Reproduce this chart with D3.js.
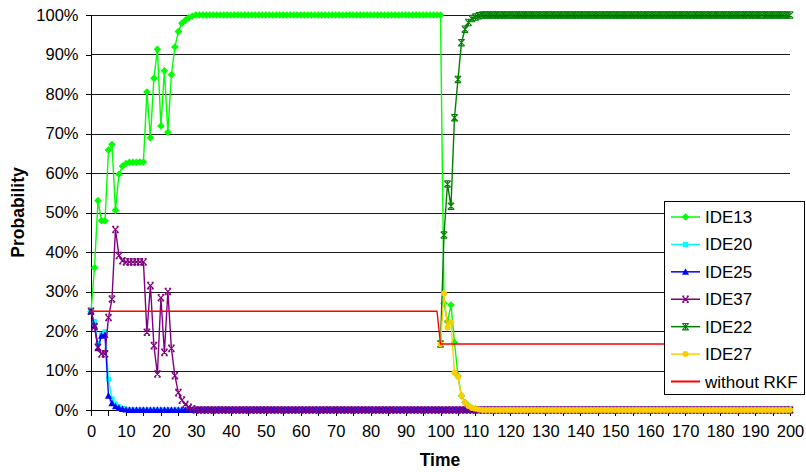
<!DOCTYPE html>
<html><head><meta charset="utf-8">
<script src="https://cdn.jsdelivr.net/npm/d3@7"></script>
<style>
body{margin:0;background:#fff}
svg{display:block;font-family:"Liberation Sans",Arial,sans-serif}
</style>
</head><body>
<svg id="chart" width="806" height="472"></svg>
<script>
// ---------- data ----------
const timeStart = 0, timeEnd = 200;          // category axis 0..200
const lateStart = 100;                        // IDE22 / IDE27 appear at t = 100
const yTickValues = [0,0.1,0.2,0.3,0.4,0.5,0.6,0.7,0.8,0.9,1];
const xTickValues = [0,5,10,15,20,25,30,35,40,45,50,55,60,65,70,75,80,85,90,95,100,105,110,115,120,125,130,135,140,145,150,155,160,165,170,175,180,185,190,195,200];
const xTickLabels = [0,10,20,30,40,50,60,70,80,90,100,110,120,130,140,150,160,170,180,190,200];
const seriesNames = ["IDE13","IDE20","IDE25","IDE37","IDE22","IDE27","without RKF"];

const ide13 = [
 .25,.36,.53,.479,.479,.658,.672,.506,.597,.617,
 .624,.627,.627,.627,.628,.628,.805,.689,.84,.913,
 .719,.859,.703,.849,.919,.958,.979,.987,.993,.997,
 1,1,1,1,1,1,1,1,1,1,
 1,1,1,1,1,1,1,1,1,1,
 1,1,1,1,1,1,1,1,1,1,
 1,1,1,1,1,1,1,1,1,1,
 1,1,1,1,1,1,1,1,1,1,
 1,1,1,1,1,1,1,1,1,1,
 1,1,1,1,1,1,1,1,1,1,
 1,.27,.224,.266,.171,.086,.036,.019,.01,.005,
 .003,.001,0,0,0,0,0,0,0,0,
 0,0,0,0,0,0,0,0,0,0,
 0,0,0,0,0,0,0,0,0,0,
 0,0,0,0,0,0,0,0,0,0,
 0,0,0,0,0,0,0,0,0,0,
 0,0,0,0,0,0,0,0,0,0,
 0,0,0,0,0,0,0,0,0,0,
 0,0,0,0,0,0,0,0,0,0,
 0,0,0,0,0,0,0,0,0,0,
 0];
const ide20 = [
 .25,.224,.167,.19,.198,.078,.028,.015,.008,.004,
 .002,.001,0,0,0,0,0,0,0,0,
 0,0,0,0,0,0,0,0,0,0,
 0,0,0,0,0,0,0,0,0,0,
 0,0,0,0,0,0,0,0,0,0,
 0,0,0,0,0,0,0,0,0,0,
 0,0,0,0,0,0,0,0,0,0,
 0,0,0,0,0,0,0,0,0,0,
 0,0,0,0,0,0,0,0,0,0,
 0,0,0,0,0,0,0,0,0,0,
 0,0,0,0,0,0,0,0,0,0,
 0,0,0,0,0,0,0,0,0,0,
 0,0,0,0,0,0,0,0,0,0,
 0,0,0,0,0,0,0,0,0,0,
 0,0,0,0,0,0,0,0,0,0,
 0,0,0,0,0,0,0,0,0,0,
 0,0,0,0,0,0,0,0,0,0,
 0,0,0,0,0,0,0,0,0,0,
 0,0,0,0,0,0,0,0,0,0,
 0,0,0,0,0,0,0,0,0,0,
 0];
const ide25 = [
 .25,.213,.156,.188,.19,.036,.017,.009,.005,.002,
 .001,0,0,0,0,0,0,0,0,0,
 0,0,0,0,0,0,0,0,0,0,
 0,0,0,0,0,0,0,0,0,0,
 0,0,0,0,0,0,0,0,0,0,
 0,0,0,0,0,0,0,0,0,0,
 0,0,0,0,0,0,0,0,0,0,
 0,0,0,0,0,0,0,0,0,0,
 0,0,0,0,0,0,0,0,0,0,
 0,0,0,0,0,0,0,0,0,0,
 0,0,0,0,0,0,0,0,0,0,
 0,0,0,0,0,0,0,0,0,0,
 0,0,0,0,0,0,0,0,0,0,
 0,0,0,0,0,0,0,0,0,0,
 0,0,0,0,0,0,0,0,0,0,
 0,0,0,0,0,0,0,0,0,0,
 0,0,0,0,0,0,0,0,0,0,
 0,0,0,0,0,0,0,0,0,0,
 0,0,0,0,0,0,0,0,0,0,
 0,0,0,0,0,0,0,0,0,0,
 0];
const ide37 = [
 .25,.211,.159,.142,.142,.234,.281,.457,.391,.378,
 .375,.375,.375,.375,.375,.375,.197,.315,.163,.091,
 .284,.146,.3,.156,.087,.044,.025,.014,.007,.003,
 0,0,0,0,0,0,0,0,0,0,
 0,0,0,0,0,0,0,0,0,0,
 0,0,0,0,0,0,0,0,0,0,
 0,0,0,0,0,0,0,0,0,0,
 0,0,0,0,0,0,0,0,0,0,
 0,0,0,0,0,0,0,0,0,0,
 0,0,0,0,0,0,0,0,0,0,
 0,0,0,0,0,0,0,0,0,0,
 0,0,0,0,0,0,0,0,0,0,
 0,0,0,0,0,0,0,0,0,0,
 0,0,0,0,0,0,0,0,0,0,
 0,0,0,0,0,0,0,0,0,0,
 0,0,0,0,0,0,0,0,0,0,
 0,0,0,0,0,0,0,0,0,0,
 0,0,0,0,0,0,0,0,0,0,
 0,0,0,0,0,0,0,0,0,0,
 0,0,0,0,0,0,0,0,0,0,
 0];
// values from t = 100 to 200
const ide22 = [
 .167,.443,.572,.516,.74,.837,.93,.964,.981,.991,
 .995,.998,1,1,1,1,1,1,1,1,
 1,1,1,1,1,1,1,1,1,1,
 1,1,1,1,1,1,1,1,1,1,
 1,1,1,1,1,1,1,1,1,1,
 1,1,1,1,1,1,1,1,1,1,
 1,1,1,1,1,1,1,1,1,1,
 1,1,1,1,1,1,1,1,1,1,
 1,1,1,1,1,1,1,1,1,1,
 1,1,1,1,1,1,1,1,1,1,
 1];
const ide27 = [
 .167,.295,.209,.222,.094,.084,.036,.019,.01,.005,
 .003,.001,0,0,0,0,0,0,0,0,
 0,0,0,0,0,0,0,0,0,0,
 0,0,0,0,0,0,0,0,0,0,
 0,0,0,0,0,0,0,0,0,0,
 0,0,0,0,0,0,0,0,0,0,
 0,0,0,0,0,0,0,0,0,0,
 0,0,0,0,0,0,0,0,0,0,
 0,0,0,0,0,0,0,0,0,0,
 0,0,0,0,0,0,0,0,0,0,
 0];
// baseline without RKF: (time, value) breakpoints
const rkfTimes  = [0, 99, 100, 200];
const rkfValues = [0.25, 0.25, 0.167, 0.167];

// ---------- build ----------
const colors = {IDE13:"#00ff00",IDE20:"#00ffff",IDE25:"#0000ff",IDE37:"#800080",IDE22:"#008000",IDE27:"#ffcc00","without RKF":"#ff0000"};
const markers = {IDE13:"diamond",IDE20:"square",IDE25:"triangle",IDE37:"x",IDE22:"star",IDE27:"circle","without RKF":null};

function pts(arr, start){ return arr.map((v,i)=>({t:start+i, v})); }
const series = [
  {name:"IDE13", data:pts(ide13,timeStart)},
  {name:"IDE20", data:pts(ide20,timeStart)},
  {name:"IDE25", data:pts(ide25,timeStart)},
  {name:"IDE37", data:pts(ide37,timeStart)},
  {name:"IDE22", data:pts(ide22,lateStart)},
  {name:"IDE27", data:pts(ide27,lateStart)},
  {name:"without RKF", data:rkfTimes.map((t,i)=>({t, v:rkfValues[i]}))}
];

const svg = d3.select("#chart");
const L=91, R=790, T=15, B=410;
const x = d3.scaleLinear().domain([timeStart,timeEnd]).range([L,R]);
const y = d3.scaleLinear().domain([0,1]).range([B,T]);

// gridlines
svg.append("g").selectAll("line").data(yTickValues.filter(d=>d>0)).join("line")
  .attr("x1",L).attr("x2",R).attr("y1",d=>Math.round(y(d))+0.5).attr("y2",d=>Math.round(y(d))+0.5)
  .attr("stroke","#1a1a1a").attr("stroke-width",1);

// axes
const yAxis = d3.axisLeft(y).tickValues(yTickValues).tickFormat(d3.format(".0%")).tickSize(6).tickPadding(7);
const gy = svg.append("g").attr("transform",`translate(${L+0.5},0)`).call(yAxis);
const xAxis = d3.axisBottom(x).tickValues(xTickValues)
  .tickFormat(d=>xTickLabels.includes(d)?String(d):"").tickSize(5).tickPadding(10);
const gx = svg.append("g").attr("transform",`translate(0,${B+0.5})`).call(xAxis);
[gx,gy].forEach(g=>{
  g.selectAll("path,line").attr("stroke","#000").attr("shape-rendering","crispEdges");
  g.selectAll("text").attr("fill","#000").style("font-size","16.5px");
});
gy.select(".domain").attr("d",`M-6,${B}H0V${T}H-6`);
gx.select(".domain").attr("d",`M${L},0H${R}`);

svg.append("text").attr("x",440).attr("y",466).attr("text-anchor","middle")
  .style("font-weight","bold").style("font-size","17.5px").text("Time");
svg.append("text").attr("transform",`translate(24,${(T+B)/2}) rotate(-90)`).attr("text-anchor","middle")
  .style("font-weight","bold").style("font-size","17.5px").text("Probability");

// marker drawing
function drawMarker(g, type, color){
  const r=3.2;
  if(type==="diamond") g.append("path").attr("d",`M0,${-r-0.6}L${r+0.6},0L0,${r+0.6}L${-r-0.6},0Z`).attr("fill",color);
  else if(type==="square") g.append("rect").attr("x",-2.6).attr("y",-2.6).attr("width",5.2).attr("height",5.2).attr("fill",color);
  else if(type==="triangle") g.append("path").attr("d",`M0,${-r-0.5}L${r+0.3},${r-0.3}L${-r-0.3},${r-0.3}Z`).attr("fill",color);
  else if(type==="x") g.append("path").attr("d",`M${-r},${-r}L${r},${r}M${-r},${r}L${r},${-r}M${-r},${-r}H${-r+2}M${r},${-r}H${r-2}M${-r},${r}H${-r+2}M${r},${r}H${r-2}`).attr("stroke",color).attr("stroke-width",1.2).attr("fill","none");
  else if(type==="star") g.append("path").attr("d",`M${-r},${-r}L${r},${r}M${-r},${r}L${r},${-r}M0,${-r}V${r}M${-r},${-r}H${r}M${-r},${r}H${r}`).attr("stroke",color).attr("stroke-width",1.1).attr("fill","none");
  else if(type==="circle") g.append("circle").attr("r",3).attr("fill",color);
}

const line = d3.line().x(d=>x(d.t)).y(d=>y(d.v));
series.forEach(s=>{
  const g = svg.append("g");
  g.append("path").datum(s.data).attr("d",line).attr("fill","none")
    .attr("stroke",colors[s.name]).attr("stroke-width",1.4).attr("stroke-linejoin","round");
  if(markers[s.name]){
    g.selectAll("g.m").data(s.data).join("g").attr("class","m")
      .attr("transform",d=>`translate(${x(d.t)},${y(d.v)})`)
      .each(function(){ drawMarker(d3.select(this), markers[s.name], colors[s.name]); });
  }
});

// legend
const lg = svg.append("g");
lg.append("rect").attr("x",664.5).attr("y",201.5).attr("width",140).attr("height",193)
  .attr("fill","#fff").attr("stroke","#000").attr("stroke-width",1);
const ly = d3.scaleLinear().domain([0,6]).range([217,381.5]);
seriesNames.forEach((n,i)=>{
  const g = lg.append("g").attr("transform",`translate(0,${ly(i)})`);
  g.append("line").attr("x1",671).attr("x2",700).attr("stroke",colors[n]).attr("stroke-width",n==="without RKF"?2:1.5);
  if(markers[n]){ const m=g.append("g").attr("transform","translate(685.5,0)"); drawMarker(m,markers[n],colors[n]); }
  g.append("text").attr("x",705).attr("y",6).style("font-size","17px").attr("fill","#000").text(n);
});
</script>
</body></html>
